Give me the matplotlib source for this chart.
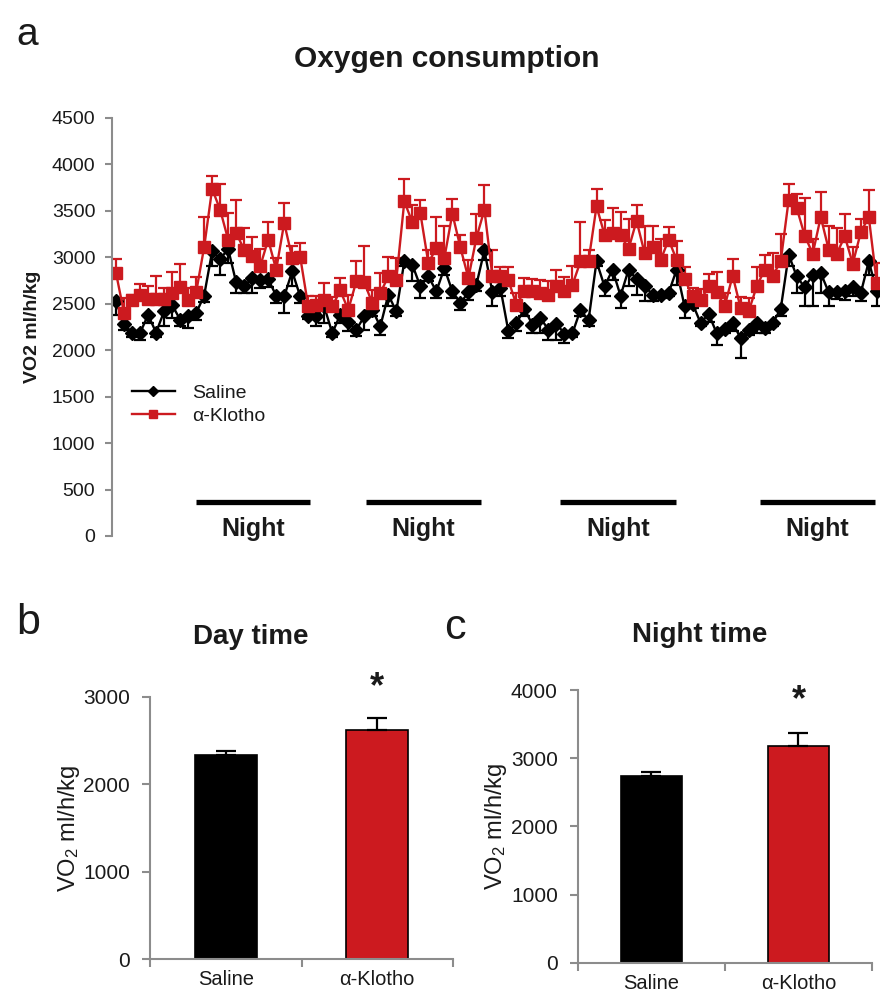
import numpy as np
import matplotlib
matplotlib.use("Agg")
import matplotlib.pyplot as plt

plt.rcParams['font.family'] = ['Liberation Sans', 'DejaVu Sans']
plt.rcParams['mathtext.fontset'] = 'custom'
plt.rcParams['mathtext.rm'] = 'Liberation Sans'
plt.rcParams['mathtext.it'] = 'Liberation Sans:italic'
plt.rcParams['mathtext.bf'] = 'Liberation Sans:bold'

# hourly VO2, 4 days (96 points)
saline = [2525, 2284, 2184, 2184, 2381, 2190, 2417, 2489, 2328, 2363, 2400, 2586,
          3064, 2981, 3089, 2730, 2687, 2776, 2751, 2765, 2586, 2579, 2848, 2579,
          2371, 2363, 2471, 2184, 2381, 2299, 2220, 2363, 2435, 2255, 2597, 2417,
          2956, 2920, 2687, 2794, 2633, 2884, 2633, 2507, 2622, 2705, 3075, 2622,
          2669, 2202, 2292, 2443, 2274, 2346, 2220, 2284, 2177, 2184, 2435, 2320,
          2956, 2687, 2866, 2586, 2866, 2766, 2694, 2597, 2597, 2615, 2866, 2471,
          2500, 2292, 2392, 2184, 2227, 2292, 2130, 2212, 2292, 2238, 2292, 2443,
          3028, 2794, 2676, 2812, 2831, 2622, 2622, 2640, 2680, 2615, 2956, 2633]
saline_err = [143, 65, 40, 72, 90, 43, 160, 143, 72, 125, 72, 65,
              160, 170, 150, 115, 72, 160, 83, 80, 80, 180, 160, 72,
              36, 108, 180, 40, 90, 97, 72, 143, 72, 90, 125, 54,
              50, 180, 125, 54, 72, 72, 72, 72, 80, 72, 100, 143,
              90, 72, 90, 80, 90, 160, 108, 172, 100, 40, 72, 65,
              50, 108, 108, 133, 172, 169, 169, 72, 30, 36, 162, 126,
              47, 36, 93, 126, 43, 90, 215, 47, 108, 54, 36, 79,
              126, 180, 205, 341, 215, 151, 72, 97, 100, 90, 144, 162]
klotho = [2831, 2400, 2536, 2597, 2550, 2550, 2550, 2615, 2680, 2536, 2622, 3107,
          3736, 3513, 3190, 3262, 3082, 3010, 2902, 3190, 2866, 3370, 2992, 3003,
          2471, 2489, 2543, 2471, 2643, 2435, 2740, 2730, 2507, 2615, 2794, 2759,
          3603, 3376, 3477, 2938, 3100, 2992, 3470, 3107, 2776, 3208, 3513, 2794,
          2794, 2751, 2489, 2633, 2633, 2615, 2597, 2687, 2633, 2705, 2956, 2956,
          3549, 3244, 3262, 3244, 3089, 3394, 3046, 3111, 2967, 3190, 2974, 2766,
          2579, 2536, 2687, 2626, 2471, 2802, 2453, 2417, 2687, 2866, 2802, 2956,
          3621, 3531, 3233, 3039, 3434, 3082, 3039, 3226, 2931, 3270, 3434, 2723]
klotho_err = [150, 160, 60, 118, 143, 250, 118, 226, 248, 133, 165, 323,
              143, 277, 287, 360, 233, 208, 187, 187, 125, 215, 125, 150,
              108, 90, 180, 100, 133, 160, 215, 395, 137, 215, 208, 233,
              240, 190, 137, 143, 334, 341, 162, 130, 197, 262, 270, 287,
              100, 143, 125, 143, 133, 137, 143, 180, 155, 205, 420, 125,
              187, 160, 270, 240, 323, 172, 295, 230, 233, 137, 197, 130,
              90, 122, 133, 212, 143, 180, 118, 143, 208, 162, 244, 298,
              169, 154, 406, 158, 269, 251, 276, 240, 180, 144, 294, 215]
night_spans = [(10.0, 24.2), (31.2, 45.6), (55.4, 69.9), (80.4, 94.8)]

groups = ['Saline', 'α-Klotho']
day_mean = [2335, 2620]
day_err = [50, 135]
night_mean = [2738, 3178]
night_err = [65, 195]

RED = '#cc1a1f'
GRAY = '#8c8c8c'
TXT = '#1a1a1a'

fig = plt.figure(figsize=(8.8, 9.92), dpi=100)

# ---- panel a ----
ax = fig.add_axes([0.1273, 0.4597, 0.8727, 0.4214])
x = np.arange(len(saline))
zeros = np.zeros(len(saline))
eb1 = ax.errorbar(x, saline, yerr=[saline_err, zeros], color='black', lw=1.7,
                  marker='D', ms=7, capsize=4.5, capthick=1.6, elinewidth=1.6)
eb2 = ax.errorbar(x, klotho, yerr=[zeros, klotho_err], color=RED, lw=1.7,
                  marker='s', ms=8, capsize=4.5, capthick=1.6, elinewidth=1.6)
for s, e in night_spans:
    ax.plot([s, e], [366, 366], color='black', lw=3.8, solid_capstyle='butt')
    ax.text((s + e) / 2, 80, 'Night', ha='center', va='center',
            fontsize=18, fontweight='bold', color=TXT)
ax.set_xlim(-0.5, 95.4)
ax.set_ylim(0, 4500)
ax.set_yticks(np.arange(0, 4501, 500))
ax.set_xticks([])
for sp in ['top', 'right', 'bottom']:
    ax.spines[sp].set_visible(False)
ax.spines['left'].set_color(GRAY)
ax.spines['left'].set_linewidth(1.5)
ax.tick_params(axis='y', direction='out', length=5, width=1.5, color=GRAY,
               labelsize=14, labelcolor=TXT, pad=7)
ax.set_ylabel('VO2 ml/h/kg', fontsize=14, fontweight='bold', color=TXT)
ax.yaxis.set_label_coords(-0.093, 0.5)
leg = ax.legend([eb1.lines[0], eb2.lines[0]], groups, loc='upper left',
                bbox_to_anchor=(0.003, 0.404), frameon=False, fontsize=14,
                markerscale=0.7, handlelength=2.2, handletextpad=0.9,
                labelspacing=0.25)
for t in leg.get_texts():
    t.set_color(TXT)

fig.text(0.508, 0.9405, 'Oxygen consumption', ha='center', va='center',
         fontsize=21.5, fontweight='bold', color=TXT)
fig.text(0.031, 0.965, 'a', ha='center', va='center', fontsize=28, color=TXT)


# ---- bar panels ----
def bar_panel(rect, means, errs, ymax, star_y, title, title_xy, letter, letter_xy, label_x):
    bx = fig.add_axes(rect)
    pos = np.arange(len(groups))
    bx.bar(pos, means, width=0.41, color=['black', RED], edgecolor='black', lw=1.2)
    bx.errorbar(pos, means, yerr=[[0, 0], errs], fmt='none', ecolor='black',
                elinewidth=1.6, capsize=7, capthick=1.6)
    bx.set_xlim(-0.5, 1.5)
    bx.set_ylim(0, ymax)
    bx.set_yticks(np.arange(0, ymax + 1, 1000))
    bx.set_xticks(pos)
    bx.set_xticklabels(groups)
    bx.set_xticks([-0.5, 0.5, 1.5], minor=True)
    bx.tick_params(axis='x', which='major', length=0, labelsize=14.5,
                   labelcolor=TXT, pad=8)
    bx.tick_params(axis='x', which='minor', direction='out', length=6,
                   width=1.5, color=GRAY)
    bx.tick_params(axis='y', direction='out', length=6, width=1.5, color=GRAY,
                   labelsize=15, labelcolor=TXT, pad=8.5)
    for sp in ['top', 'right']:
        bx.spines[sp].set_visible(False)
    for sp in ['left', 'bottom']:
        bx.spines[sp].set_color(GRAY)
        bx.spines[sp].set_linewidth(1.5)
    bx.set_ylabel('VO$_2$ ml/h/kg', fontsize=17, color=TXT)
    bx.yaxis.set_label_coords(label_x, 0.5)
    bx.text(1, star_y, '*', ha='center', va='center', fontsize=26,
            fontweight='bold', color=TXT)
    fig.text(title_xy[0], title_xy[1], title, ha='center', va='center',
             fontsize=20, fontweight='bold', color=TXT)
    fig.text(letter_xy[0], letter_xy[1], letter, ha='center', va='center',
             fontsize=31, color=TXT)
    return bx


bar_panel([0.1705, 0.033, 0.3443, 0.2647], day_mean, day_err, 3000, 3100,
          'Day time', (0.285, 0.358), 'b', (0.032, 0.372), -0.225)
bar_panel([0.6568, 0.0295, 0.3341, 0.2749], night_mean, night_err, 4000, 3850,
          'Night time', (0.795, 0.36), 'c', (0.517, 0.367), -0.235)

fig.savefig('out.png', dpi=100)
